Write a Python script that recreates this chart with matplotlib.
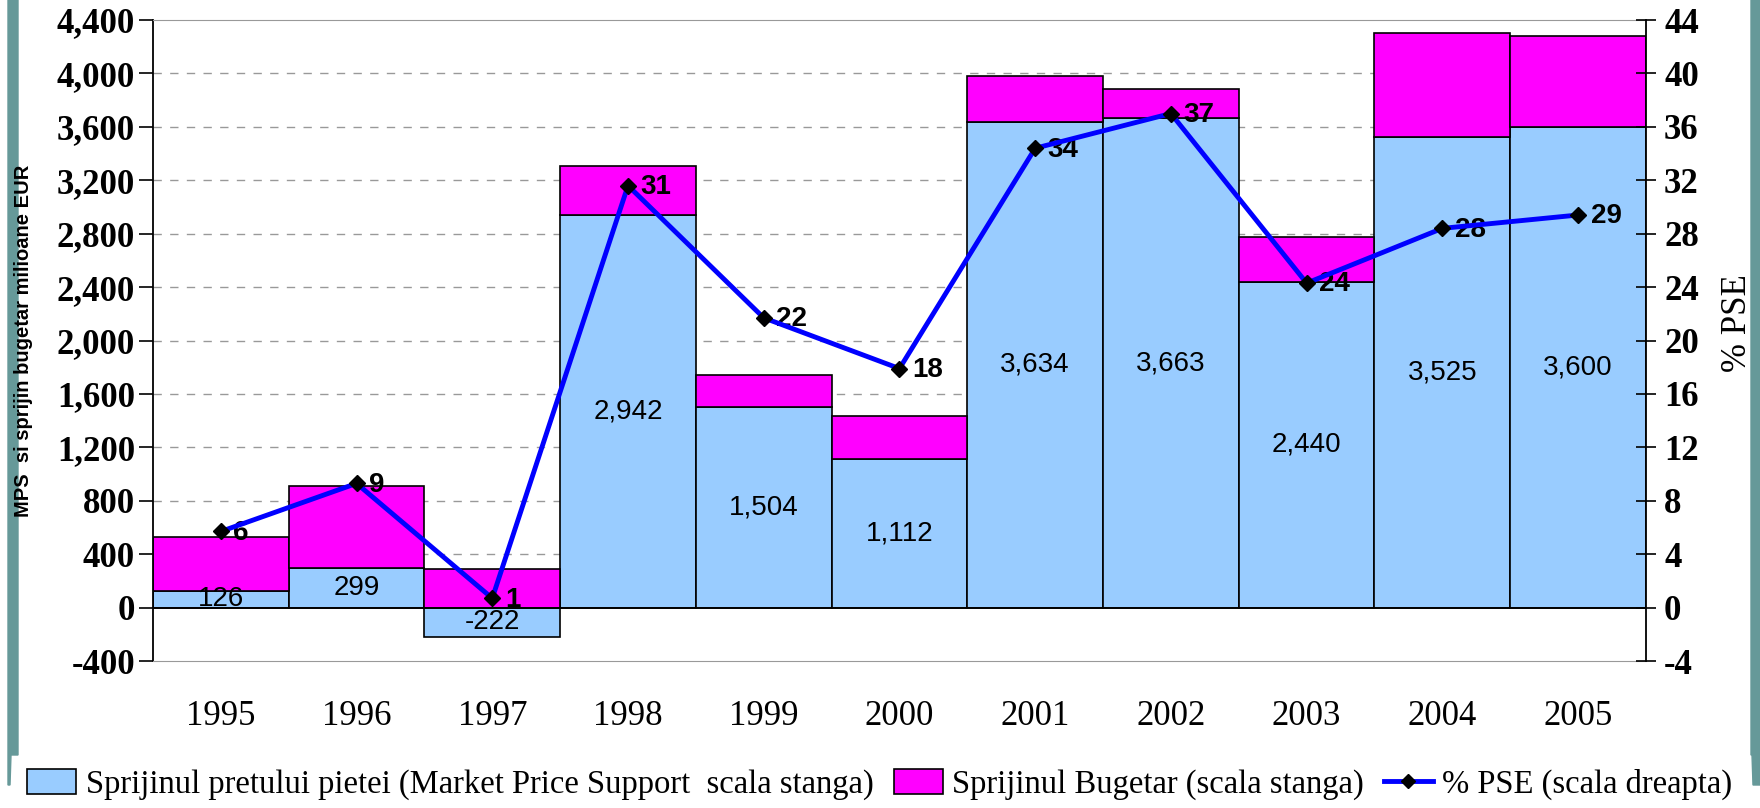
import matplotlib
matplotlib.use("Agg")
import matplotlib.pyplot as plt
from matplotlib.patches import Polygon, Patch
from matplotlib.lines import Line2D
from matplotlib.ticker import FuncFormatter

plt.rcParams["axes.unicode_minus"] = False

# date (milioane EUR si %)
ani = ["1995", "1996", "1997", "1998", "1999", "2000", "2001", "2002", "2003", "2004", "2005"]
mps = [126, 299, -222, 2942, 1504, 1112, 3634, 3663, 2440, 3525, 3600]
bugetar = [406, 614, 290, 362, 237, 325, 346, 224, 332, 776, 684]
pse = [5.7, 9.3, 0.7, 31.6, 21.7, 17.9, 34.4, 37.0, 24.3, 28.4, 29.4]
pse_etichete = [6, 9, 1, 31, 22, 18, 34, 37, 24, 28, 29]

serif = "Liberation Serif"
sans = "Liberation Sans"
albastru = "#99CCFF"
magenta = "#FF00FF"
teal = "#669999"

fig = plt.figure(figsize=(17.6, 8.08), dpi=100)
ax = fig.add_axes([0.0869, 0.1819, 0.9352 - 0.0869, 0.9752 - 0.1819])
ax2 = ax.twinx()

x = list(range(len(ani)))
# baza pentru sprijinul bugetar: peste MPS daca e pozitiv, altfel de la 0
baza = [m if m > 0 else 0 for m in mps]
ax.bar(x, mps, width=1.0, color=albastru, edgecolor="black", linewidth=1.2, zorder=2)
ax.bar(x, bugetar, bottom=baza, width=1.0, color=magenta, edgecolor="black", linewidth=1.2, zorder=2)

for i, v in enumerate(mps):
    ax.text(i, v / 2, f"{v:,}", ha="center", va="center", fontsize=20, family=sans, zorder=3)

ax.set_xlim(-0.5, 10.5)
ax.set_ylim(-400, 4400)
ax.set_yticks(range(-400, 4401, 400))
ax.yaxis.set_major_formatter(FuncFormatter(lambda v, p: f"{int(v):,}"))
ax.set_xticks(x)
ax.set_xticklabels(ani)
ax.tick_params(axis="x", length=0, pad=28, labelsize=25)
for lab in ax.get_xticklabels():
    lab.set_family(serif)
ax.tick_params(axis="y", direction="out", length=10, width=1.2, labelsize=25, pad=3)
for lab in ax.get_yticklabels():
    lab.set_family(serif)
    lab.set_fontweight("bold")

for g in range(400, 4400, 400):
    ax.axhline(g, color="#999999", linestyle=(0, (6, 6)), linewidth=1.0, zorder=1)
ax.axhline(0, color="black", linewidth=1.3, zorder=4)

ax.spines["left"].set_linewidth(1.3)
ax.spines["top"].set_color("#999999")
ax.spines["bottom"].set_color("#999999")
ax.spines["right"].set_visible(False)

ax.set_ylabel("MPS  si sprijin bugetar milioane EUR", fontsize=14.5, fontweight="bold", family=sans,
              ha="center", va="center")
ax.yaxis.set_label_coords(-0.0864, 0.5)

ax2.plot(x, pse, color="#0000FF", linewidth=3.5, marker="D", markersize=8,
         markerfacecolor="black", markeredgecolor="black", zorder=5)
for i, (v, t) in enumerate(zip(pse, pse_etichete)):
    ax2.annotate(str(t), (i, v), xytext=(9, -1), textcoords="offset points",
                 ha="left", va="center", fontsize=20, fontweight="bold", family=sans)
ax2.set_ylim(-4, 44)
ax2.set_yticks(range(-4, 45, 4))
ax2.tick_params(axis="y", direction="inout", length=14, width=1.2, labelsize=25, pad=6)
for lab in ax2.get_yticklabels():
    lab.set_family(serif)
    lab.set_fontweight("bold")
ax2.spines["right"].set_linewidth(1.3)
ax2.spines["top"].set_visible(False)
ax2.spines["bottom"].set_visible(False)
ax2.spines["left"].set_visible(False)
ax2.set_ylabel("% PSE", fontsize=25, family=serif, rotation=90, ha="center", va="center")
ax2.yaxis.set_label_coords(1.061, 0.527)

# legenda
handles = [
    Patch(facecolor=albastru, edgecolor="black", linewidth=1.2),
    Patch(facecolor=magenta, edgecolor="black", linewidth=1.2),
    Line2D([0], [0], color="#0000FF", linewidth=3.5, marker="D", markersize=7,
           markerfacecolor="black", markeredgecolor="black"),
]
labels = [
    "Sprijinul pretului pietei (Market Price Support  scala stanga)",
    "Sprijinul Bugetar (scala stanga)",
    "% PSE (scala dreapta)",
]
fig.legend(handles, labels, loc="center", bbox_to_anchor=(0.5, 0.029), ncol=3, frameon=False,
           prop={"family": serif, "size": 23.5}, handlelength=1.5, handleheight=0.8,
           handletextpad=0.3, columnspacing=0.6, borderaxespad=0)

# chenar decorativ (stanga si dreapta)
W, H = 1760, 808
def px(pts):
    return [(a / W, 1 - b / H) for a, b in pts]

fig.patches.append(Polygon(px([(8, 0), (18, 0), (18, 755), (11, 755), (10, 785), (8, 785)]),
                           closed=True, transform=fig.transFigure, color=teal, zorder=-1))
fig.patches.append(Polygon(px([(1751, 0), (1760, 0), (1760, 785), (1753, 785), (1752, 755), (1751, 755)]),
                           closed=True, transform=fig.transFigure, color=teal, zorder=-1))

fig.savefig("out.png", dpi=100)
